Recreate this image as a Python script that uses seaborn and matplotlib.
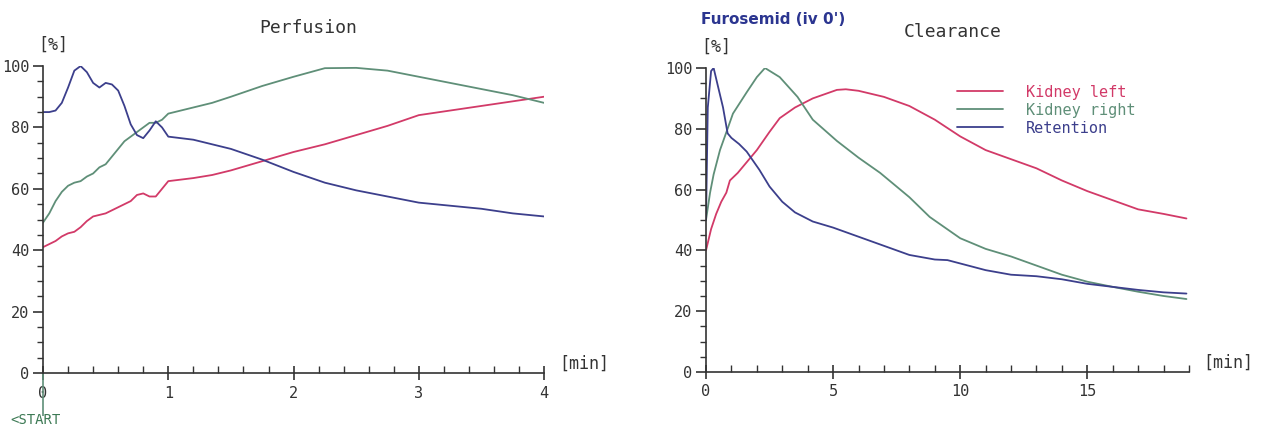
import seaborn as sns
import pandas as pd
import matplotlib.pyplot as plt
from matplotlib.ticker import MultipleLocator

# ---- Perfusion (0-4 min) ----
perf_t = [0, 0.05, 0.1, 0.15, 0.2, 0.25, 0.3, 0.35, 0.4, 0.45, 0.5, 0.55, 0.6, 0.65,
          0.7, 0.75, 0.8, 0.85, 0.9, 0.95, 1.0, 1.1, 1.2, 1.35, 1.5, 1.75, 2.0, 2.25,
          2.5, 2.75, 3.0, 3.25, 3.5, 3.75, 4.0]
perf_left = [41, 42, 43, 44.5, 45.5, 46, 47.5, 49.5, 51, 51.5, 52, 53, 54, 55,
             56, 58, 58.5, 57.5, 57.5, 60, 62.5, 63, 63.5, 64.5, 66, 69, 72, 74.5,
             77.5, 80.5, 84, 85.5, 87, 88.5, 90]
perf_right = [49, 52, 56, 59, 61, 62, 62.5, 64, 65, 67, 68, 70.5, 73, 75.5,
              77, 78.5, 80, 81.5, 81.5, 82.5, 84.5, 85.5, 86.5, 88, 90, 93.5, 96.5, 99.3,
              99.4, 98.5, 96.5, 94.5, 92.5, 90.5, 88]
perf_ret = [85, 85, 85.5, 88, 93, 98.5, 100, 98, 94.5, 93, 94.5, 94, 92, 87,
            81, 77.5, 76.5, 79, 82, 80, 77, 76.5, 76, 74.5, 73, 69.5, 65.5, 62,
            59.5, 57.5, 55.5, 54.5, 53.5, 52, 51]

# ---- Clearance (0-19 min) ----
cl_left_t = [0, 0.2, 0.4, 0.6, 0.8, 0.94, 1.25, 1.6, 2, 2.25, 2.5, 2.9, 3.5, 4.2, 5.15,
             5.5, 6, 7, 8, 9, 10, 11, 12, 13, 14, 15, 16, 17, 18, 18.9]
cl_left = [40, 47, 52, 56, 59, 63, 65.5, 69, 73, 76, 79, 83.5, 87, 90, 92.8,
           93, 92.5, 90.5, 87.5, 83, 77.5, 73, 70, 67, 63, 59.5, 56.5, 53.5, 52, 50.5]
cl_right_t = [0, 0.16, 0.3, 0.55, 0.87, 1.06, 1.6, 2, 2.32, 2.9, 3.6, 4.2, 5.15, 6, 6.85,
              8, 8.8, 10, 11, 12, 13, 14, 15, 16, 17, 18, 18.9]
cl_right = [50, 59, 65, 73, 80.5, 85, 92, 97, 100, 97, 90.5, 83, 76, 70.5, 65.5,
            57.5, 51, 44, 40.5, 38, 35, 32, 29.7, 28, 26.4, 25, 24]
cl_ret_t = [0, 0.07, 0.2, 0.3, 0.47, 0.67, 0.85, 1.0, 1.3, 1.6, 2.1, 2.5, 3, 3.5, 4.2,
            5, 6, 7, 8, 9, 9.5, 10, 11, 12, 13, 14, 15, 16, 17, 18, 18.9]
cl_ret = [50, 87, 99, 100, 94, 87, 78.5, 77, 75, 72.5, 66.5, 61, 56, 52.5, 49.5,
          47.5, 44.5, 41.5, 38.5, 37, 36.8, 35.7, 33.5, 32, 31.5, 30.5, 29, 28, 27, 26.2, 25.8]

labels = ["Kidney left", "Kidney right", "Retention"]
colors = ["#d23a68", "#5f8f78", "#3c3f8c"]

sns.set_style("ticks")
plt.rcParams['font.family'] = ['DejaVu Sans Mono']

fig = plt.figure(figsize=(12.73, 4.29), dpi=100)
ax1 = fig.add_axes([0.0338, 0.1305, 0.3936, 0.7156])
ax2 = fig.add_axes([0.5546, 0.1329, 0.3794, 0.7086])

lw = 1.3
sns.lineplot(x=perf_t, y=perf_left, ax=ax1, color=colors[0], linewidth=lw)
sns.lineplot(x=perf_t, y=perf_right, ax=ax1, color=colors[1], linewidth=lw)
sns.lineplot(x=perf_t, y=perf_ret, ax=ax1, color=colors[2], linewidth=lw)

sns.lineplot(x=cl_left_t, y=cl_left, ax=ax2, color=colors[0], linewidth=lw, label=labels[0])
sns.lineplot(x=cl_right_t, y=cl_right, ax=ax2, color=colors[1], linewidth=lw, label=labels[1])
sns.lineplot(x=cl_ret_t, y=cl_ret, ax=ax2, color=colors[2], linewidth=lw, label=labels[2])

for ax, xmax, major, minor in [(ax1, 4, 1, 0.2), (ax2, 19, 5, 1)]:
    ax.set_xlim(0, xmax)
    ax.set_ylim(0, 100)
    for s in ["top", "right"]:
        ax.spines[s].set_visible(False)
    for s in ["left", "bottom"]:
        ax.spines[s].set_color("#333333")
        ax.spines[s].set_linewidth(1.2)
    ax.xaxis.set_major_locator(MultipleLocator(major))
    ax.xaxis.set_minor_locator(MultipleLocator(minor))
    ax.yaxis.set_major_locator(MultipleLocator(20))
    ax.yaxis.set_minor_locator(MultipleLocator(5))
    ax.tick_params(axis="x", which="major", direction="inout", length=10, width=1.2,
                   labelsize=11, colors="#333333", pad=4, bottom=True)
    ax.tick_params(axis="x", which="minor", direction="in", length=5, width=1.0,
                   colors="#333333", bottom=True)
    ax.tick_params(axis="y", which="major", direction="out", length=7, width=1.2,
                   labelsize=11, colors="#333333", pad=3, left=True)
    ax.tick_params(axis="y", which="minor", direction="out", length=4, width=1.0,
                   colors="#333333", left=True)
    ax.set_xlabel("")
    ax.set_ylabel("")
    ax.text(-0.01, 1.04, "[%]", transform=ax.transAxes, fontsize=12, color="#333333",
            ha="left", va="bottom")
    ax.text(1.03, 0.0, "[min]", transform=ax.transAxes, fontsize=12, color="#333333",
            ha="left", va="bottom")

ax1.set_title("Perfusion", fontsize=13, color="#333333", pad=24, x=0.53)
ax2.set_title("Clearance", fontsize=13, color="#333333", pad=22, x=0.51)

# start marker below the perfusion axis
ax1.vlines(0, -14, 0, color=colors[1], linewidth=1.2, clip_on=False)
ax1.text(-0.065, -0.13, "<START", transform=ax1.transAxes, fontsize=10,
         color="#3d7a55", ha="left", va="top")

fig.text(0.551, 0.955, "Furosemid (iv 0')", fontsize=11, fontweight="bold",
         color="#2b3590", family="DejaVu Sans", ha="left", va="center")

leg = ax2.legend(loc="upper left", bbox_to_anchor=(0.52, 0.945), frameon=False,
                 handlelength=3.0, handletextpad=1.5, labelspacing=0.2,
                 borderpad=0, borderaxespad=0, fontsize=11, labelcolor="linecolor")

plt.savefig("out.png", dpi=100)
